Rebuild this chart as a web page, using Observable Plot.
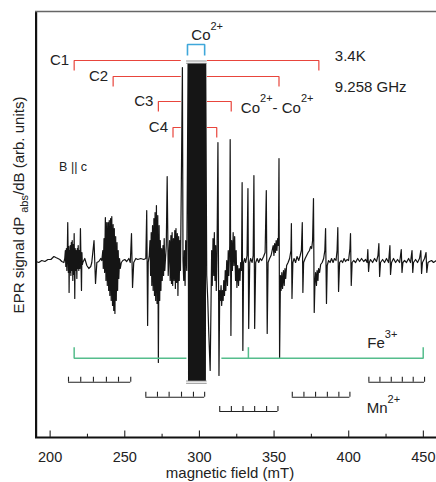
<!DOCTYPE html>
<html><head><meta charset="utf-8">
<script src="https://cdn.jsdelivr.net/npm/d3@7"></script>
<script src="https://cdn.jsdelivr.net/npm/@observablehq/plot@0.6"></script>
<style>body{margin:0;background:#fff} svg{display:block}</style>
</head><body><div id="chart"></div>
<script>
// ---------- data (magnetic field in mT, EPR signal in arbitrary units) ----------
const xDomain = [190.2, 458.8];
const yDomain = [-177, 249];
const majorTicks = [200, 250, 300, 350, 400, 450];
const minorTicks = [225, 275, 325, 375, 425];

const spectrumLow = [
 [190.4,-1],[192.4,-2],[194.4,0],[196.5,-1],[198.5,1],[200.5,1],[202.5,4],[203.8,3],[205.2,2],[206.5,1],[207.8,-1],[209.2,-2],
 [209.8,2],[210.2,10],[210.5,-6],[210.9,12],[211.2,-10],[211.5,8],[211.8,38],[212.2,-12],[212.5,14],[212.7,-32],[213.0,10],
 [213.2,-12],[213.5,15],[213.9,-15],[214.2,18],[214.5,-10],[214.8,20],[215.2,-20],[215.5,16],[215.8,-14],[216.1,27],[216.5,-38],
 [216.8,12],[217.2,-10],[217.5,10],[217.9,-18],[218.2,12],[218.5,-8],[218.8,15],[219.2,-10],[219.5,10],[219.9,-8],[220.3,32],
 [221.0,-30],[221.3,8],[221.6,-4],[221.9,-2],
 [223.2,2],[224.6,-5],[225.9,-8],[227.2,-6],[227.9,-2],
 [229.4,20],[230.4,-23],[231.3,-2],[232.6,-1],[233.9,2],
 [234.6,0],[235.3,10],[235.6,-8],[236.1,22],[236.5,-12],[237.0,43],[237.4,-20],[237.9,38],[238.3,-25],[238.8,38],[239.2,-30],
 [239.6,40],[240.0,-35],[240.5,42],[240.9,-40],[241.3,44],[241.8,-45],[242.2,36],[242.6,-50],[243.0,32],[243.4,-53],[243.9,24],
 [244.3,-40],[244.8,18],[245.2,-30],[245.6,10],[246.0,-18],[246.5,2],[247.0,-8],[247.7,-2],[248.7,0],[250.0,1],[251.3,-1],[252.7,2],[253.7,-2],
 [254.5,27],[255.2,-27],[256.0,-2],[257.4,2],[258.7,1],[260.7,2],[262.7,1],[264.1,2],
 [264.7,50],[265.3,-65],[265.7,-2],
 [266.4,5],[266.9,20],[267.3,-15],[267.7,28],[268.1,-25],[268.6,35],[269.0,-30],[269.5,42],[269.9,-35],[270.3,48],[270.7,-40],
 [271.2,55],[271.6,-43],[272.1,45],[272.5,-102],[273.0,35],[273.4,-40],[273.8,20],[274.2,-30],[274.7,12],[275.1,-20],[275.6,15],
 [276.0,-15],[276.4,22],[276.8,-10],
 [277.8,15],[278.4,84],[279.1,-15],[279.4,-2],
 [280.0,20],[280.4,-20],[280.9,25],[281.3,-23],[281.7,28],[282.1,-25],[282.6,22],[283.0,-20],[283.5,30],[283.9,-28],[284.3,32],
 [284.7,-22],[285.2,27],[285.6,-35],[286.1,24],[286.5,-20],[286.9,20],[287.3,-10],
 [288.1,110],[288.6,193],[289.0,0],[289.5,-20],[289.9,10],[290.4,-25],[290.8,20],[291.5,-10]
];

// off-scale (saturated) central Co2+ resonance
const coSaturated = [
 [292.4,197],[292.75,-120],[293.1,197],[293.45,-120],[293.8,197],[294.15,-120],[294.5,197],[294.85,-120],[295.2,197],
 [295.55,-120],[295.9,197],[296.25,-120],[296.6,197],[296.95,-120],[297.3,197],[297.65,-120],[298.0,197],[298.35,-120],
 [298.7,197],[299.05,-120],[299.4,197],[299.75,-120],[300.1,197],[300.45,-120],[300.8,197],[301.15,-120],[301.5,197],
 [301.85,-120],[302.2,197],[302.55,-120],[302.9,197],[303.25,-120],[303.6,197],[303.95,-120],[304.2,197]
];

const spectrumHigh = [
 [304.9,-15],[305.6,-40],[306.2,-70],[307.2,-110],[307.8,-40],[308.2,10],[308.6,-25],[309.1,22],[309.6,-15],[310.0,28],[310.4,-20],
 [310.9,15],[311.3,-30],[311.8,10],[312.4,118],[313.1,-115],[313.6,-30],[314.0,-40],[314.5,-25],[314.9,-45],[315.4,-30],[315.9,-40],
 [316.3,-20],[316.8,-35],[317.3,-10],[317.7,-30],[318.3,0],[318.8,-25],[319.3,10],[319.7,-15],[320.3,15],[320.6,121],[321.1,-75],
 [321.6,20],[322.1,-10],[322.6,28],[323.1,-5],[323.6,24],[324.2,-20],[324.6,10],[325.1,-27],[325.6,-5],[326.2,-25],[326.6,-8],
 [327.2,-20],[327.6,-2],[328.2,-10],[328.6,78],[329.1,-90],[329.6,-2],[330.3,2],[331.0,-2],[331.9,5],[332.5,72],[333.0,-68],
 [333.7,-2],[334.3,2],[335.3,-2],[336.0,5],[336.5,85],[337.0,-68],[337.7,-2],[338.7,2],[339.7,-2],[340.7,2],[341.7,0],[343.0,4],
 [344.0,8],[344.8,70],[345.4,-73],[346.0,-2],[347.0,2],[348.0,5],[348.7,10],[349.4,15],[349.9,5],[350.4,17],[350.9,8],[351.4,20],
 [351.9,10],[352.4,22],[352.9,15],[353.3,102],[353.7,-98],[354.3,-15],[354.7,-30],[355.2,-12],[355.7,-28],[356.3,-10],[356.8,-25],
 [357.3,-8],[357.8,-18],[358.4,-5],[359.4,-2],[360.4,2],[361.3,10],[361.6,37],[362.0,-38],[362.6,-2],[363.4,2],[364.4,-2],
 [365.4,4],[366.5,0],[367.5,5],[368.3,10],[368.9,38],[369.3,-32],[369.8,-2],[370.8,2],[371.8,5],[372.8,8],[373.7,10],[374.5,14],
 [375.2,12],[375.8,20],[376.4,62],[376.9,-52],[377.4,-22],[377.8,-12],[378.4,-25],[378.8,-10],[379.4,-20],[379.8,-8],[380.5,-12],
 [381.2,-4],[382.2,-2],[383.2,2],[384.0,10],[384.5,32],[385.1,-43],[385.6,-5],[386.5,0],[387.5,-2],[388.5,2],[389.5,-2],[390.5,2],
 [391.5,0],[392.2,10],[392.7,33],[393.2,-31],[393.9,-2],[394.9,0],[395.9,-2],[396.9,2],[397.9,-1],[398.9,1],[399.9,0],[400.8,12],
 [401.2,27],[401.7,-25],[402.3,-2],[403.3,0],[404.6,-2],[406.0,2],[407.3,-1],[408.6,2],[410.0,-1],[411.3,1],[412.3,-2],[412.8,11],
 [413.3,-11],[413.8,-2],[414.6,1],[416.0,-2],[417.3,2],[418.6,-1],[419.6,5],[420.2,17],[420.7,-16],[421.3,-2],[422.7,1],[424.0,-2],
 [425.3,2],[426.7,-2],[427.6,15],[428.0,-14],[428.7,-2],[430.0,2],[431.4,-2],[432.7,1],[434.1,-2],[435.2,11],[435.7,-12],[436.3,-2],
 [437.4,0],[438.7,-2],[440.1,2],[441.4,-2],[442.4,10],[442.9,-12],[443.4,-2],[444.8,1],[446.1,-2],[447.4,2],[448.3,10],[448.8,-13],
 [449.4,-2],[450.8,2],[451.8,8],[452.3,-12],[453.1,-2],[454.1,-1],[455.5,0],[456.8,-2],[458.8,0]
];

// Co2+-Co2+ pair brackets
const pairNames = ["C1", "C2", "C3", "C4"];
const pairLeft = [216.1, 242.2, 272.5, 282.3];
const pairRight = [380.0, 353.3, 321.3, 311.6];
const pairTop = [200, 184, 159, 133];
const bracketGap = [287.5, 305.0];
// single Co2+ bracket
const coBracket = {left: 292.0, right: 303.5, top: 216};
// Fe3+ bracket
const feBracket = {left: 216.1, mid: 332.8, right: 449.9, level: -97.7};
const feGap = [291.3, 314.7];
// Mn2+ hyperfine sextets
const mnLevels = [-121.7, -136.7, -151, -136.7, -121.7];
const mnLines = [
 [212.3, 220.5, 229.0, 237.7, 245.8, 254.0],
 [264.1, 271.9, 279.7, 288.0, 296.0, 303.5],
 [313.6, 321.4, 329.2, 337.0, 345.0, 352.6],
 [362.2, 370.0, 377.8, 385.7, 393.4, 400.8],
 [413.5, 420.9, 428.5, 435.9, 443.2, 450.8]
];

// text annotations
const plainLabels = [
 {text: "3.4K", field: 390.7, signal: 199.3, size: 15},
 {text: "9.258 GHz", field: 390.7, signal: 168.3, size: 15},
 {text: "B || c", field: 206.0, signal: 89.3, size: 12.5}
];
const richLabels = [
 {parts: [["Co",0],["2+",1]], field: 294.9, signal: 220},
 {parts: [["Co",0],["2+",1],["- Co",0],["2+",1]], field: 328.1, signal: 147.3},
 {parts: [["Fe",0],["3+",1]], field: 412.8, signal: -88.3},
 {parts: [["Mn",0],["2+",1]], field: 412.4, signal: -153.3}
];

// ---------- build ----------
const FONT = "'Liberation Sans', Arial, Helvetica, sans-serif";
const spectrum = spectrumLow.concat(coSaturated, spectrumHigh);
const brackets = pairNames.map((n, i) => ({name: n, left: pairLeft[i], right: pairRight[i], top: pairTop[i]}));
const drop = 10;
const redPts = brackets.flatMap(b => [
  {g: b.name + "L", x: b.left, y: b.top - drop}, {g: b.name + "L", x: b.left, y: b.top}, {g: b.name + "L", x: bracketGap[0], y: b.top},
  {g: b.name + "R", x: bracketGap[1], y: b.top}, {g: b.name + "R", x: b.right, y: b.top}, {g: b.name + "R", x: b.right, y: b.top - drop}
]);
const coPts = [
  {x: coBracket.left, y: coBracket.top - 11}, {x: coBracket.left, y: coBracket.top},
  {x: coBracket.right, y: coBracket.top}, {x: coBracket.right, y: coBracket.top - 11}
];
const rise = 11;
const fePts = [
  {g: "L", x: feBracket.left, y: feBracket.level + rise}, {g: "L", x: feBracket.left, y: feBracket.level}, {g: "L", x: feGap[0], y: feBracket.level},
  {g: "R", x: feGap[1], y: feBracket.level}, {g: "R", x: feBracket.right, y: feBracket.level}, {g: "R", x: feBracket.right, y: feBracket.level + rise},
  {g: "M", x: feBracket.mid, y: feBracket.level}, {g: "M", x: feBracket.mid, y: feBracket.level + rise}
];
const mnBase = mnLines.map((l, i) => ({x1: l[0], x2: l[l.length - 1], y: mnLevels[i]}));
const mnTicks = mnLines.flatMap((l, i) => l.map(x => ({x, y1: mnLevels[i], y2: mnLevels[i] + 5})));
const blockL = coSaturated[0][0], blockR = coSaturated[coSaturated.length - 1][0];
const blockTop = d3.max(coSaturated, d => d[1]), blockBot = d3.min(coSaturated, d => d[1]);
const breaks = [blockTop + 2.5, blockTop + 0.2, blockBot - 0.5, blockBot - 2.8].map(y => ({y, x1: blockL - 1, x2: blockR + 1}));

const plot = Plot.plot({
  width: 436, height: 482,
  marginLeft: 35, marginRight: 0, marginTop: 11, marginBottom: 45,
  x: {domain: xDomain},
  y: {domain: yDomain, axis: null},
  style: {fontFamily: FONT, fontSize: "14px", background: "#fff", color: "#222"},
  marks: [
    Plot.line(spectrum, {x: d => d[0], y: d => d[1], stroke: "#151515", strokeWidth: 1.2, strokeLinejoin: "round"}),
    Plot.ruleY(breaks, {y: "y", x1: "x1", x2: "x2", stroke: "#888", strokeWidth: 0.9}),
    Plot.line(redPts, {x: "x", y: "y", z: "g", stroke: "#e8453c", strokeWidth: 1.2, strokeLinejoin: "miter", strokeLinecap: "butt"}),
    Plot.line(coPts, {x: "x", y: "y", stroke: "#3fa7da", strokeWidth: 1.6, strokeLinejoin: "miter", strokeLinecap: "butt"}),
    Plot.line(fePts, {x: "x", y: "y", z: "g", stroke: "#55bd8c", strokeWidth: 1.5, strokeLinejoin: "miter", strokeLinecap: "butt"}),
    Plot.ruleY(mnBase, {y: "y", x1: "x1", x2: "x2", stroke: "#222", strokeWidth: 1.1}),
    Plot.ruleX(mnTicks, {x: "x", y1: "y1", y2: "y2", stroke: "#222", strokeWidth: 1.1}),
    Plot.text(brackets, {x: "left", y: "top", text: "name", textAnchor: "end", dx: -5, fontSize: 15, fill: "#222"}),
    Plot.text(plainLabels, {x: "field", y: "signal", text: "text", fontSize: "size", textAnchor: "start", lineAnchor: "bottom", fill: "#222"}),
    // frame
    Plot.ruleX([xDomain[0]], {stroke: "#111", strokeWidth: 2.2, dx: 0.6}),
    Plot.ruleY([yDomain[1]], {stroke: "#666", strokeWidth: 1.3}),
    Plot.ruleY([yDomain[0]], {stroke: "#111", strokeWidth: 2}),
    // inward ticks
    Plot.ruleX(majorTicks, {x: d => d, y1: yDomain[0], y2: yDomain[0] + 6.5, stroke: "#222", strokeWidth: 1.1}),
    Plot.ruleX(minorTicks, {x: d => d, y1: yDomain[0], y2: yDomain[0] + 3.3, stroke: "#222", strokeWidth: 1.1}),
    Plot.axisX({ticks: majorTicks, tickSize: 0, tickPadding: 14, label: null, fontSize: 14.5, fill: "#222"})
  ]
});

document.getElementById("chart").append(plot);
const svg = d3.select(plot);
const sx = plot.scale("x"), sy = plot.scale("y");

// superscripted labels
richLabels.forEach(l => {
  const t = svg.append("text")
    .attr("x", sx.apply(l.field)).attr("y", sy.apply(l.signal))
    .attr("text-anchor", "start")
    .attr("font-family", FONT).attr("font-size", 15).attr("fill", "#222");
  let raised = false;
  l.parts.forEach(([s, sup]) => {
    const ts = t.append("tspan").text(s);
    if (sup && !raised) { ts.attr("dy", -10.5).attr("font-size", 11); raised = true; }
    else if (sup) { ts.attr("font-size", 11); }
    else if (!sup && raised) { ts.attr("dy", 10.5); raised = false; }
  });
});

// y-axis title with subscript
const yl = svg.append("text")
  .attr("transform", "translate(23.5,205) rotate(-90)")
  .attr("text-anchor", "middle")
  .attr("font-family", FONT).attr("font-size", 15).attr("fill", "#222");
yl.append("tspan").text("EPR signal dP ");
yl.append("tspan").text("abs").attr("font-size", 11).attr("dy", 4);
yl.append("tspan").text("/dB (arb. units)").attr("dy", -4);

// x-axis title
svg.append("text")
  .attr("x", 230).attr("y", 477.5)
  .attr("text-anchor", "middle")
  .attr("font-family", FONT).attr("font-size", 15).attr("fill", "#222")
  .text("magnetic field (mT)");
</script>
</body></html>
